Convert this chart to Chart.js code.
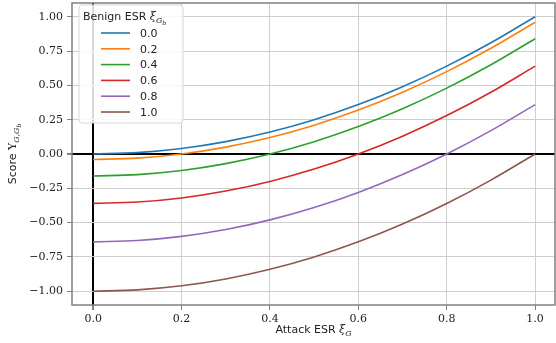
<!DOCTYPE html>
<html>
<head>
<meta charset="utf-8">
<script src="https://cdn.jsdelivr.net/npm/chart.js@4.4.0/dist/chart.umd.min.js"></script>
<style>
  html, body { margin: 0; padding: 0; background: #fff; }
  #wrap { width: 556px; height: 343px; }
</style>
</head>
<body>
<div id="wrap"><canvas id="scoreChart" width="556" height="343"></canvas></div>
<script>
// attack ESR on the x axis
const attackEsr = [0.0, 0.1, 0.2, 0.3, 0.4, 0.5, 0.6, 0.7, 0.8, 0.9, 1.0];
const benignLabels = ['0.0', '0.2', '0.4', '0.6', '0.8', '1.0'];
const score00 = [0.00, 0.01, 0.04, 0.09, 0.16, 0.25, 0.36, 0.49, 0.64, 0.81, 1.00];
const score02 = [-0.04, -0.03, 0.00, 0.05, 0.12, 0.21, 0.32, 0.45, 0.60, 0.77, 0.96];
const score04 = [-0.16, -0.15, -0.12, -0.07, 0.00, 0.09, 0.20, 0.33, 0.48, 0.65, 0.84];
const score06 = [-0.36, -0.35, -0.32, -0.27, -0.20, -0.11, 0.00, 0.13, 0.28, 0.45, 0.64];
const score08 = [-0.64, -0.63, -0.60, -0.55, -0.48, -0.39, -0.28, -0.15, 0.00, 0.17, 0.36];
const score10 = [-1.00, -0.99, -0.96, -0.91, -0.84, -0.75, -0.64, -0.51, -0.36, -0.19, 0.00];
const xTicks = [0.0, 0.2, 0.4, 0.6, 0.8, 1.0];
const yTicks = [-1.0, -0.75, -0.5, -0.25, 0.0, 0.25, 0.5, 0.75, 1.0];

const colors = ['#1f77b4', '#ff7f0e', '#2ca02c', '#d62728', '#9467bd', '#8c564b'];
const allScores = [score00, score02, score04, score06, score08, score10];

const datasets = allScores.map((s, i) => ({
    label: benignLabels[i],
    data: s.map((v, j) => ({ x: attackEsr[j], y: v })),
    borderColor: colors[i],
    backgroundColor: colors[i],
    borderWidth: 1.6,
    pointRadius: 0,
    cubicInterpolationMode: 'monotone',
    fill: false,
}));

const serif = "'DejaVu Serif'";
const sans = "'DejaVu Sans'";
Chart.defaults.font.family = serif;
Chart.defaults.font.size = 11;

function gridColor(ctx) {
    return ctx.tick && ctx.tick.value === 0 ? '#000000' : '#cfcfcf';
}
function gridWidth(ctx) {
    return ctx.tick && ctx.tick.value === 0 ? 2 : 1;
}

// draws frame, axis titles with subscripts and the legend inside the plot
const extras = {
    id: 'extras',
    afterDraw(chart) {
        const c = chart.ctx;
        const a = chart.chartArea;
        c.save();
        c.strokeStyle = '#808080';
        c.lineWidth = 1.5;
        c.strokeRect(a.left, a.top, a.right - a.left, a.bottom - a.top);

        // x title
        c.fillStyle = '#222';
        c.textBaseline = 'alphabetic';
        const xt = 'Attack ESR ';
        const xcx = (a.left + a.right) / 2;
        c.font = '11px ' + sans;
        const w1 = c.measureText(xt).width;
        c.font = 'italic 11px ' + serif;
        const w2 = c.measureText('ξ').width;
        c.font = 'italic 8px ' + serif;
        const w3 = c.measureText('G').width;
        let sx = xcx - (w1 + w2 + w3) / 2;
        c.font = '11px ' + sans;
        c.fillText(xt, sx, 333);
        c.font = 'italic 11px ' + serif;
        c.fillText('ξ', sx + w1, 333);
        c.font = 'italic 8px ' + serif;
        c.fillText('G', sx + w1 + w2, 336);

        // y title
        c.save();
        c.translate(16, (a.top + a.bottom) / 2);
        c.rotate(-Math.PI / 2);
        c.font = '11px ' + sans;
        const yt = 'Score ';
        const v1 = c.measureText(yt).width;
        c.font = '11px ' + serif;
        const v2 = c.measureText('Υ').width;
        c.font = 'italic 8px ' + serif;
        const v3 = c.measureText('G,G').width;
        c.font = 'italic 6px ' + serif;
        const v4 = c.measureText('b').width;
        let sy = -(v1 + v2 + v3 + v4) / 2;
        c.font = '11px ' + sans;
        c.fillText(yt, sy, 0);
        c.font = '11px ' + serif;
        c.fillText('Υ', sy + v1, 0);
        c.font = 'italic 8px ' + serif;
        c.fillText('G,G', sy + v1 + v2, 3);
        c.font = 'italic 6px ' + serif;
        c.fillText('b', sy + v1 + v2 + v3, 5);
        c.restore();

        // legend
        const lx = 79, ly = 5, lw = 104, lh = 118;
        c.beginPath();
        c.roundRect(lx, ly, lw, lh, 3);
        c.fillStyle = 'rgba(255,255,255,0.85)';
        c.fill();
        c.strokeStyle = '#d6d6d6';
        c.lineWidth = 1;
        c.stroke();

        c.fillStyle = '#222';
        c.font = '11px ' + sans;
        const lt = 'Benign ESR ';
        c.fillText(lt, 83, 20);
        const lw1 = c.measureText(lt).width;
        c.font = 'italic 11px ' + serif;
        c.fillText('ξ', 83 + lw1, 20);
        const lw2 = c.measureText('ξ').width;
        c.font = 'italic 8px ' + serif;
        c.fillText('G', 83 + lw1 + lw2, 23);
        const lw3 = c.measureText('G').width;
        c.font = 'italic 6px ' + serif;
        c.fillText('b', 83 + lw1 + lw2 + lw3, 25);

        chart.data.datasets.forEach((d, i) => {
            const yy = 33 + i * 15.8;
            c.strokeStyle = d.borderColor;
            c.lineWidth = 1.6;
            c.beginPath();
            c.moveTo(101, yy);
            c.lineTo(130, yy);
            c.stroke();
            c.fillStyle = '#222';
            c.font = '11px ' + sans;
            c.textBaseline = 'middle';
            c.fillText(d.label, 140, yy + 1);
            c.textBaseline = 'alphabetic';
        });
        c.restore();
    }
};

new Chart(document.getElementById('scoreChart').getContext('2d'), {
    type: 'line',
    data: { datasets: datasets },
    options: {
        responsive: false,
        animation: false,
        layout: { padding: { top: 3, right: 1, left: 0, bottom: 0 } },
        plugins: { legend: { display: false }, tooltip: { enabled: false } },
        scales: {
            x: {
                type: 'linear',
                min: -0.048,
                max: 1.045,
                afterBuildTicks: (scale) => { scale.ticks = xTicks.map(v => ({ value: v })); },
                afterFit: (scale) => { scale.height = 38; scale.paddingLeft = 0; scale.paddingRight = 0; },
                grid: { color: gridColor, lineWidth: gridWidth, drawTicks: true, tickLength: 5, tickColor: '#808080' },
                border: { display: false },
                ticks: { font: { family: serif, size: 11 }, color: '#222', padding: 3, maxRotation: 0,
                    callback: (v) => v.toFixed(1) }
            },
            y: {
                type: 'linear',
                min: -1.1,
                max: 1.1,
                afterBuildTicks: (scale) => { scale.ticks = yTicks.map(v => ({ value: v })); },
                afterFit: (scale) => { scale.width = 72; scale.paddingTop = 0; scale.paddingBottom = 0; },
                grid: { color: gridColor, lineWidth: gridWidth, drawTicks: true, tickLength: 5, tickColor: '#808080' },
                border: { display: false },
                ticks: { font: { family: serif, size: 11 }, color: '#222', padding: 4,
                    callback: (v) => v.toFixed(2).replace('-', '\u2212') }
            }
        }
    },
    plugins: [extras]
});
</script>
</body>
</html>
